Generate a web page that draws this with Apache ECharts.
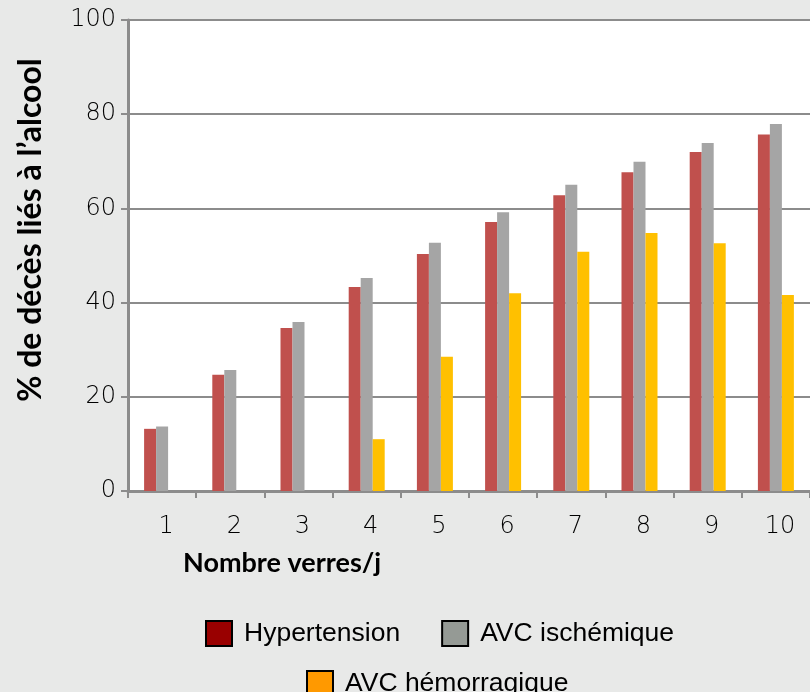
<!DOCTYPE html>
<html>
<head>
<meta charset="utf-8">
<script src="https://cdn.jsdelivr.net/npm/echarts@6/dist/echarts.min.js"></script>
<style>
  html, body { margin: 0; padding: 0; background: #e8e9e8; }
  #container { width: 810px; height: 692px; }
</style>
</head>
<body>
<div id="container"></div>
<script>
// données
var verres = ['1', '2', '3', '4', '5', '6', '7', '8', '9', '10'];
var hypertension = [13.2, 24.7, 34.6, 43.3, 50.3, 57.1, 62.8, 67.7, 72.0, 75.7];
var avcIschemique = [13.7, 25.7, 35.9, 45.2, 52.7, 59.2, 65.0, 69.9, 73.9, 77.9];
var avcHemorragique = [null, null, null, 11.0, 28.5, 42.0, 50.8, 54.8, 52.6, 41.6];
var yTicks = [0, 20, 40, 60, 80, 100];

var myChart = echarts.init(document.getElementById('container'));

var legendText = {
  fontFamily: 'Liberation Sans',
  fontSize: 26.5,
  color: '#000',
  padding: [0, 0, 0, 7]
};
var tickText = { fontFamily: 'DejaVu Sans', fontWeight: 200, fontSize: 24, color: '#000' };

myChart.setOption({
  backgroundColor: '#e8e9e8',
  animation: false,
  title: {
    text: 'Nombre verres/j',
    left: 178,
    top: 545,
    textStyle: { fontFamily: 'Lato', fontWeight: 'bold', fontSize: 27, color: '#000' }
  },
  graphic: [{
    type: 'text',
    x: 31,
    y: 230,
    rotation: Math.PI / 2,
    style: {
      text: '% de décès liés à l’alcool',
      fontFamily: 'Lato',
      fontWeight: 'bold',
      fontSize: 32,
      fill: '#000',
      align: 'center',
      verticalAlign: 'middle'
    }
  }],
  legend: [{
    left: 200,
    top: 615,
    itemWidth: 26,
    itemHeight: 25,
    itemGap: 41,
    textStyle: legendText,
    data: [
      { name: 'Hypertension', icon: 'rect', itemStyle: { color: '#990000', borderColor: '#000', borderWidth: 2 } },
      { name: 'AVC ischémique', icon: 'rect', itemStyle: { color: '#959a95', borderColor: '#000', borderWidth: 2 } }
    ]
  }, {
    left: 301,
    top: 665,
    itemWidth: 26,
    itemHeight: 25,
    textStyle: legendText,
    data: [
      { name: 'AVC hémorragique', icon: 'rect', itemStyle: { color: '#ff9900', borderColor: '#000', borderWidth: 2 } }
    ]
  }],
  grid: { left: 128, top: 20, right: -5, bottom: 201, show: true, backgroundColor: '#fff', borderWidth: 0 },
  xAxis: {
    type: 'category',
    data: verres,
    axisLine: { lineStyle: { color: '#8c8c8c', width: 3 } },
    axisTick: { show: true, length: 7, lineStyle: { color: '#8c8c8c', width: 2 } },
    axisLabel: Object.assign({ margin: 24, padding: [0, 0, 0, 8] }, tickText)
  },
  yAxis: {
    type: 'value',
    min: 0,
    max: 100,
    interval: 20,
    axisLine: { show: true, lineStyle: { color: '#8c8c8c', width: 3 } },
    axisTick: { show: true, length: 7, lineStyle: { color: '#8c8c8c', width: 2 } },
    axisLabel: Object.assign({
      margin: 12,
      formatter: function (v) { return yTicks.indexOf(v) >= 0 ? String(v) : ''; }
    }, tickText),
    splitLine: { show: true, lineStyle: { color: '#8c8c8c', width: 2 } }
  },
  series: [{
    name: 'Hypertension',
    type: 'bar',
    data: hypertension,
    barWidth: 12,
    barGap: '0%',
    barCategoryGap: '46%',
    itemStyle: { color: '#c0504d' }
  }, {
    name: 'AVC ischémique',
    type: 'bar',
    data: avcIschemique,
    barWidth: 12,
    barGap: '0%',
    itemStyle: { color: '#a5a5a5' }
  }, {
    name: 'AVC hémorragique',
    type: 'bar',
    data: avcHemorragique,
    barWidth: 12,
    barGap: '0%',
    itemStyle: { color: '#ffc000' }
  }]
});
</script>
</body>
</html>
